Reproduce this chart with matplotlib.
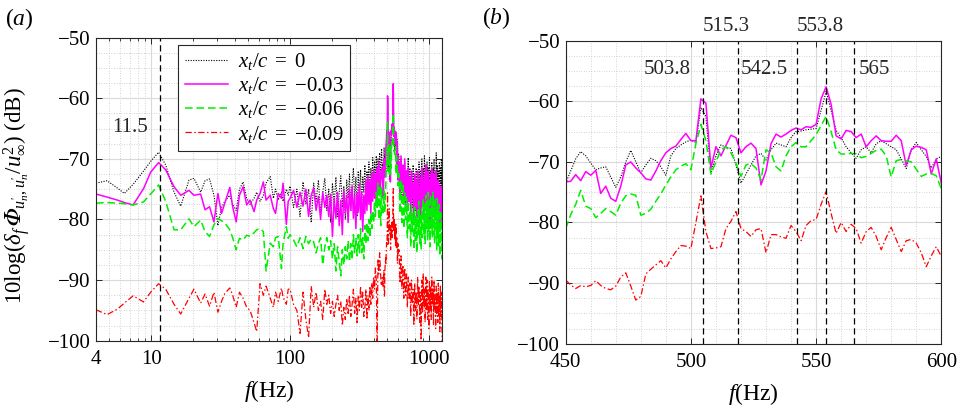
import numpy as np
import matplotlib
matplotlib.use("Agg")
import matplotlib.pyplot as plt
from matplotlib.ticker import MultipleLocator, LogLocator, NullFormatter, FixedLocator

plt.rcParams['font.family'] = ['Liberation Serif', 'DejaVu Serif']
plt.rcParams['mathtext.fontset'] = 'custom'
plt.rcParams['mathtext.rm'] = 'Liberation Serif'
plt.rcParams['mathtext.it'] = 'Liberation Serif:italic'
plt.rcParams['mathtext.bf'] = 'Liberation Serif:bold'
plt.rcParams['mathtext.fallback'] = 'stix'

# ---------------- data ----------------
labels = [r'$x_t/c\;=$ 0', r'$x_t/c\;=$ −0.03', r'$x_t/c\;=$ −0.06', r'$x_t/c\;=$ −0.09']

# panel (a), low frequencies
fa_low = [4.0, 4.8, 5.7, 6.4, 7.4, 8.8, 9.9, 11.3, 12.7, 14.6,
          16.3, 18.7, 20.3, 22.7, 24.4, 26.3, 28.3, 30.2, 32.1, 33.9,
          36.8, 38.6, 40.9, 43.2, 45.9, 48.7, 51.5, 55.0, 57.5, 60.8,
          64.2, 67.2, 72.0, 75.8, 78.6, 82.2, 86.7, 89.0, 94.0, 97.0]
a_black_low = [-74.0, -73.6, -74.8, -75.7, -74.2, -72.0, -70.4, -68.9, -71.0, -75.5,
               -77.8, -73.5, -73.2, -75.5, -73.6, -73.3, -76.0, -81.0, -78.0, -77.0,
               -76.0, -77.5, -78.5, -75.0, -73.8, -76.5, -77.5, -76.5, -75.5, -77.0,
               -76.0, -74.0, -72.9, -76.5, -75.0, -76.8, -75.5, -77.0, -75.0, -76.0]
a_mag_low = [-75.8, -76.3, -76.8, -77.2, -77.6, -74.9, -72.2, -70.6, -71.8, -74.6,
             -76.0, -75.2, -76.0, -75.8, -78.4, -77.9, -80.4, -75.7, -79.0, -77.3,
             -74.7, -77.9, -80.4, -76.0, -74.6, -77.6, -76.8, -78.7, -76.8, -75.7,
             -73.8, -76.8, -76.0, -78.2, -79.0, -75.7, -76.5, -74.0, -80.8, -77.0]
a_green_low = [-77.3, -77.2, -77.3, -77.4, -77.6, -77.1, -75.8, -74.3, -77.0, -81.7,
               -81.7, -79.9, -81.2, -80.1, -82.0, -82.8, -80.9, -79.8, -80.2, -80.6,
               -81.7, -83.0, -85.0, -83.1, -83.4, -82.6, -82.8, -82.2, -81.7, -81.5,
               -82.0, -88.5, -83.9, -84.5, -83.0, -82.8, -88.1, -84.0, -81.2, -83.1]
a_red_low = [-94.9, -95.7, -94.8, -93.8, -92.6, -93.6, -92.0, -90.6, -91.5, -94.0,
             -95.6, -93.0, -91.5, -93.8, -92.3, -94.3, -92.0, -95.3, -93.5, -92.2,
             -91.3, -92.5, -94.5, -92.0, -93.0, -94.5, -95.0, -97.0, -98.5, -90.6,
             -92.5, -91.0, -93.0, -94.5, -92.0, -93.5, -91.3, -92.8, -94.0, -91.5]

# panel (a), 100-442 Hz
fa_mid = np.arange(100, 448, 6)
a_black_mid = [-74.5, -78.0, -75.0, -79.5, -73.8, -77.5, -75.0, -80.5, -74.0, -77.0,
               -73.5, -79.0, -75.5, -73.2, -78.5, -75.0, -80.5, -74.0, -77.5, -73.0,
               -79.5, -75.5, -72.8, -78.0, -74.5, -80.0, -73.5, -76.5, -72.5, -78.5,
               -74.0, -71.5, -77.0, -73.0, -79.5, -72.0, -76.5, -71.8, -78.0, -73.0,
               -75.5, -71.0, -77.0, -72.0, -74.5, -70.5, -76.0, -71.5, -74.5, -69.8,
               -75.0, -70.5, -73.5, -69.5, -74.5, -70.0, -72.5, -69.0]
a_mag_mid = [-76.5, -75.2, -78.0, -75.5, -77.8, -75.0, -79.5, -76.0, -74.8, -78.5,
             -76.2, -80.0, -75.5, -78.0, -76.0, -79.5, -75.8, -82.8, -76.5, -79.8,
             -75.5, -81.0, -76.8, -82.5, -75.2, -79.0, -76.0, -80.5, -75.0, -78.5,
             -74.5, -79.8, -76.0, -81.5, -75.5, -78.8, -74.2, -80.0, -75.5, -82.0,
             -76.0, -79.0, -73.5, -78.5, -72.8, -77.5, -73.5, -79.0, -72.5, -77.0,
             -71.8, -76.5, -72.5, -77.5, -71.5, -76.0, -70.5, -75.5]
a_green_mid = [-82.5, -83.4, -84.5, -83.0, -84.8, -82.8, -84.0, -83.2, -83.7, -85.5,
               -84.0, -83.0, -87.5, -84.5, -83.0, -85.0, -83.5, -86.5, -84.0, -88.5,
               -84.5, -87.0, -89.3, -85.0, -87.5, -84.5, -86.5, -83.5, -87.0, -84.0,
               -86.7, -82.5, -85.5, -83.0, -86.0, -82.5, -85.5, -81.5, -85.5, -83.0,
               -86.5, -81.0, -84.0, -80.5, -83.5, -80.0, -83.0, -79.0, -81.5, -78.5,
               -80.5, -77.0, -79.5, -75.5, -78.0, -74.0, -80.0, -74.5]
a_red_mid = [-91.5, -94.0, -95.0, -98.8, -92.0, -96.5, -99.5, -91.0, -94.5, -92.0,
             -95.0, -93.5, -96.5, -91.5, -94.0, -92.5, -95.5, -93.5, -96.0, -94.0,
             -92.5, -95.0, -93.5, -97.5, -94.5, -96.5, -93.0, -95.5, -92.5, -96.0,
             -94.0, -91.5, -95.5, -93.0, -97.0, -92.5, -95.0, -91.0, -94.5, -92.0,
             -96.0, -94.5, -91.5, -96.5, -92.5, -95.0, -91.0, -94.0, -90.5, -93.0,
             -89.5, -91.5, -88.0, -90.0, -101.0, -86.5, -89.0, -85.5]

# panel (b), 450-600 Hz (also used in panel a)
fb = np.arange(450, 601, 2)
b_black = [-73.5, -71.5, -69.5, -68.3, -69.0, -70.2, -71.3, -71.0, -70.8, -72.5,
           -74.2, -72.5, -70.0, -68.1, -70.0, -71.8, -70.5, -69.4, -69.8, -70.8,
           -72.2, -69.0, -67.8, -67.2, -66.7, -66.4, -66.8, -61.0, -62.5, -71.8,
           -69.0, -67.2, -67.6, -67.8, -70.5, -73.5, -72.0, -70.5, -69.0, -68.6,
           -69.7, -68.0, -66.9, -67.2, -67.5, -66.0, -65.0, -64.9, -64.7, -64.6,
           -64.5, -61.5, -58.4, -61.5, -64.8, -66.0, -67.5, -68.5, -69.4, -68.0,
           -67.5, -68.5, -67.0, -66.5, -67.0, -67.5, -68.0, -69.5, -71.1, -68.0,
           -66.8, -68.0, -69.1, -71.0, -69.5, -69.1]
b_mag = [-73.3, -73.2, -72.1, -73.1, -71.6, -72.2, -71.4, -75.2, -74.0, -76.0,
         -76.5, -74.0, -70.5, -70.0, -71.0, -71.8, -72.8, -73.0, -71.5, -69.8,
         -68.5, -67.8, -67.4, -66.3, -65.3, -66.5, -66.5, -59.6, -60.3, -71.0,
         -67.5, -69.0, -67.3, -65.6, -66.0, -68.5, -67.5, -66.9, -67.8, -73.8,
         -71.5, -67.0, -65.4, -65.9, -65.4, -64.8, -64.4, -64.7, -64.2, -64.3,
         -63.8, -59.6, -57.6, -60.5, -65.7, -66.2, -64.8, -65.0, -66.0, -65.4,
         -67.5, -66.5, -65.7, -66.5, -66.6, -66.6, -65.6, -66.5, -70.6, -68.0,
         -67.4, -67.6, -68.0, -72.0, -69.5, -73.5]
b_green = [-81.0, -78.7, -77.0, -74.7, -77.3, -77.7, -79.2, -78.5, -77.7, -78.2,
           -78.8, -76.8, -75.6, -75.3, -75.5, -78.8, -78.5, -77.8, -76.5, -75.3,
           -73.8, -72.5, -71.3, -70.7, -70.3, -71.3, -67.0, -63.8, -66.5, -72.0,
           -70.0, -68.0, -67.5, -68.5, -70.2, -72.4, -70.5, -70.3, -71.0, -73.0,
           -68.0, -68.5, -70.8, -71.5, -69.0, -67.5, -66.8, -67.5, -67.5, -66.5,
           -65.5, -64.0, -62.5, -65.0, -68.0, -68.7, -68.7, -68.6, -68.7, -69.3,
           -69.1, -68.6, -68.1, -67.9, -69.0, -72.5, -69.8, -69.6, -69.8, -70.0,
           -71.2, -72.4, -72.0, -71.9, -72.3, -74.4]
b_red = [-89.5, -90.3, -90.9, -90.4, -90.6, -90.4, -89.6, -90.4, -90.9, -91.1,
         -90.5, -89.0, -88.3, -90.5, -92.8, -92.2, -88.5, -87.7, -87.0, -86.3,
         -87.5, -86.0, -84.8, -83.8, -83.9, -84.3, -80.0, -75.6, -81.5, -84.3,
         -84.2, -84.0, -81.0, -79.8, -78.2, -81.0, -81.5, -82.3, -81.2, -81.0,
         -85.0, -82.0, -82.0, -82.4, -82.6, -80.5, -81.5, -83.0, -80.5, -79.7,
         -79.5, -77.0, -74.9, -78.5, -81.8, -80.0, -81.5, -80.3, -81.0, -83.4,
         -81.5, -80.8, -82.3, -84.5, -82.5, -80.8, -82.8, -84.8, -83.0, -82.8,
         -83.4, -85.0, -87.3, -85.5, -84.0, -85.6]

# panel (a), 610-1250 Hz
fa_high = np.arange(610, 1251, 10)
a_black_high = [-69.5, -75.5, -70.0, -77.0, -71.5, -75.0, -70.5, -77.5, -72.0, -76.0,
                -69.8, -77.0, -71.5, -76.5, -72.5, -78.0, -71.0, -76.5, -73.0, -78.5,
                -71.5, -76.0, -72.5, -79.0, -70.5, -76.5, -72.0, -78.0, -70.0, -75.5,
                -71.5, -77.5, -69.5, -76.0, -72.0, -78.0, -70.5, -76.5, -71.5, -77.0,
                -69.8, -76.0, -72.0, -78.5, -70.5, -76.0, -71.5, -77.5, -70.0, -75.5,
                -72.5, -78.0, -69.0, -76.5, -71.0, -77.5, -72.0, -78.5, -70.5, -77.0,
                -71.5, -78.0, -70.0, -76.5, -72.0]
a_mag_high = [-70.5, -76.5, -69.5, -75.0, -71.0, -77.5, -70.0, -76.0, -72.0, -78.5,
              -71.5, -77.0, -73.0, -79.5, -72.0, -76.5, -74.0, -80.0, -72.5, -78.0,
              -73.5, -79.5, -72.0, -77.0, -74.5, -80.5, -73.0, -78.5, -71.5, -77.0,
              -73.5, -79.0, -72.5, -77.5, -71.0, -76.5, -73.0, -79.0, -72.0, -77.5,
              -73.5, -80.0, -72.5, -78.0, -71.5, -77.0, -74.0, -79.5, -72.5, -78.5,
              -73.0, -80.0, -72.0, -77.5, -74.0, -79.0, -73.5, -80.5, -74.5, -79.0,
              -75.0, -80.5, -74.5, -78.5, -80.5]
a_green_high = [-72.5, -79.0, -73.5, -80.5, -74.0, -81.5, -75.5, -80.0, -76.5, -83.0,
                -77.0, -81.5, -78.5, -84.5, -77.5, -82.0, -79.0, -85.0, -78.0, -83.5,
                -79.5, -85.5, -78.5, -82.5, -77.0, -84.0, -79.0, -85.0, -78.0, -83.0,
                -76.5, -82.5, -77.5, -84.0, -76.0, -81.5, -77.0, -83.5, -75.5, -82.0,
                -77.0, -84.5, -76.0, -81.5, -77.5, -83.0, -75.5, -82.5, -77.0, -84.0,
                -76.5, -82.0, -78.0, -85.0, -76.5, -83.0, -78.0, -84.5, -77.5, -86.0,
                -78.5, -84.0, -79.0, -86.5, -80.0]
a_red_high = [-85.0, -90.5, -86.0, -91.5, -87.5, -93.0, -88.0, -92.5, -89.0, -94.5,
              -89.5, -93.0, -90.5, -96.0, -90.0, -94.0, -91.5, -97.5, -90.5, -95.0,
              -92.0, -96.5, -89.5, -94.0, -91.0, -97.0, -92.0, -101.0, -90.0, -95.5,
              -89.0, -94.5, -91.5, -97.0, -89.5, -95.0, -90.0, -96.5, -91.5, -98.0,
              -90.0, -95.0, -91.0, -96.5, -89.5, -94.0, -91.5, -97.5, -90.0, -95.0,
              -92.5, -98.0, -91.0, -95.5, -92.0, -97.0, -90.5, -96.0, -92.5, -98.5,
              -91.0, -96.0, -92.0, -97.0, -101.0]

# marked frequencies
fa_mark, fa_mark_label = 11.5, '11.5'
fb_marks = [505.0, 518.8, 542.5, 553.8, 565.0]
fb_mark_labels = ['503.8', '515.3', '542.5', '553.8', '565']

# ---------------- styles ----------------
styles = [dict(color='k', lw=0.8, dashes=(1, 1.3)),
          dict(color='#ff00ff', lw=1.1, linestyle='-'),
          dict(color='#00ee00', lw=1.1, dashes=(5, 2.5)),
          dict(color='#ff0000', lw=0.9, dashes=(5, 2, 1.2, 2))]

fa = np.concatenate([fa_low, fa_mid, fb, fa_high])
series_a = [np.concatenate([a_black_low, a_black_mid, b_black, a_black_high]),
            np.concatenate([a_mag_low, a_mag_mid, b_mag, a_mag_high]),
            np.concatenate([a_green_low, a_green_mid, b_green, a_green_high]),
            np.concatenate([a_red_low, a_red_mid, b_red, a_red_high])]
series_b = [b_black, b_mag, b_green, b_red]

fig = plt.figure(figsize=(9.67, 4.12), dpi=100)
ax1 = fig.add_axes([0.0993, 0.1731, 0.3581, 0.7354])
ax2 = fig.add_axes([0.5850, 0.1658, 0.3884, 0.7354])


def style_axes(ax):
    ax.set_axisbelow(True)
    ax.grid(True, which='major', color='#dadada', lw=0.8, ls='-')
    ax.grid(True, which='minor', color='#c4c4c4', lw=0.6, ls=(0, (1, 2)))
    ax.tick_params(which='both', direction='in', top=True, right=True,
                   labelsize=15, colors='#262626', labelcolor='k')
    ax.tick_params(which='major', length=4, width=0.7)
    ax.tick_params(axis='x', which='major', pad=7)
    ax.tick_params(axis='y', which='major', pad=4)
    ax.yaxis.set_minor_locator(MultipleLocator(2.5))
    ax.tick_params(axis='y', which='minor', length=0)
    for sp in ax.spines.values():
        sp.set_color('#262626')
        sp.set_linewidth(0.8)
    ax.set_ylim(-100, -50)
    ax.set_yticks(np.arange(-100, -49, 10))


# panel (a)
for y, st, lab in zip(series_a, styles, labels):
    ax1.plot(fa, y, label=lab, **st)
ax1.set_xscale('log')
ax1.set_xlim(4, 1250)
style_axes(ax1)
ax1.xaxis.set_major_locator(FixedLocator([4, 10, 100, 1000]))
ax1.set_xticklabels(['4', '10', '100', '1000'])
ax1.xaxis.set_minor_locator(LogLocator(base=10, subs=np.arange(2, 10)))
ax1.xaxis.set_minor_formatter(NullFormatter())
ax1.tick_params(axis='x', which='minor', length=2, width=0.6)
ax1.axvline(fa_mark, color='k', lw=0.9, dashes=(5, 3))
ax1.text(9.4, -64.9, fa_mark_label, fontsize=15, ha='right', va='center', color='#262626')
ax1.set_xlabel(r'$f$(Hz)', fontsize=17, labelpad=6)
ax1.set_ylabel('$\\mathrm{10log}(\\delta_f\\,\U0001D6F7_{u_n^{\\prime},u_n^{\\prime}}/u_{\\infty}^{2})$ (dB)',
               fontsize=16.5)
ax1.yaxis.set_label_coords(-0.185, 0.48)
leg = ax1.legend(loc='upper left', bbox_to_anchor=(0.238, 0.976), borderaxespad=0,
                 fontsize=15, frameon=True, fancybox=False, framealpha=1,
                 edgecolor='#262626', handlelength=2.1, handletextpad=0.45,
                 labelspacing=0.15, borderpad=0.3)
leg.get_frame().set_linewidth(0.8)

# panel (b)
for y, st in zip(series_b, styles):
    ax2.plot(fb, y, **st)
ax2.set_xlim(450, 600)
style_axes(ax2)
ax2.set_xticks([450, 500, 550, 600])
ax2.xaxis.set_minor_locator(MultipleLocator(10))
ax2.tick_params(axis='x', which='minor', length=0)
for xm in fb_marks:
    ax2.axvline(xm, color='k', lw=0.9, dashes=(5, 3))
ax2.text(500.0, -54.8, fb_mark_labels[0], fontsize=15, ha='right', va='center', color='#262626')
ax2.text(514.3, -47.7, fb_mark_labels[1], fontsize=15, ha='center', va='center', color='#262626')
ax2.text(520.0, -54.8, fb_mark_labels[2], fontsize=15, ha='left', va='center', color='#262626')
ax2.text(551.5, -47.7, fb_mark_labels[3], fontsize=15, ha='center', va='center', color='#262626')
ax2.text(567.2, -54.8, fb_mark_labels[4], fontsize=15, ha='left', va='center', color='#262626')
ax2.set_xlabel(r'$f$(Hz)', fontsize=17, labelpad=6)

fig.text(5 / 967, 1 - 19 / 412, r'($a$)', fontsize=17, ha='left', va='center')
fig.text(482 / 967, 1 - 18 / 412, r'($b$)', fontsize=17, ha='left', va='center')

fig.savefig('out.png', dpi=100)
